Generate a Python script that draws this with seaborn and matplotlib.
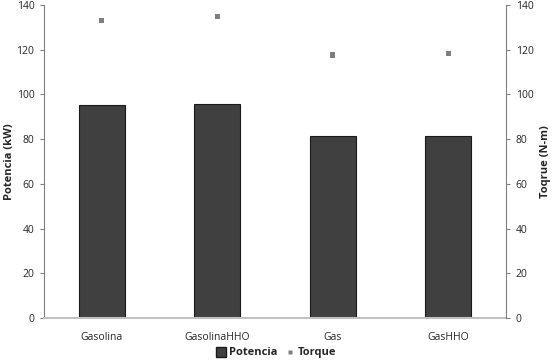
import numpy as np
import pandas as pd
import matplotlib
matplotlib.use("Agg")
import matplotlib.pyplot as plt
import seaborn as sns
from matplotlib.lines import Line2D

# valores
combustibles = ["Gasolina", "GasolinaHHO", "Gas", "GasHHO"]
potencia = [95.2, 95.8, 81.4, 81.6]   # kW
torque = [133.0, 134.9, 117.6, 118.2]  # N-m
yticks = list(range(0, 141, 20))

df = pd.DataFrame({"Combustible": combustibles, "Potencia": potencia, "Torque": torque})

sns.set_style("white")
plt.rcParams["font.family"] = ["Open Sans", "DejaVu Sans"]

fig = plt.figure(figsize=(5.53, 3.62), dpi=100)
ax = fig.add_axes([0.0796, 0.1215, 0.8354, 0.8647])

sns.barplot(data=df, x="Combustible", y="Potencia", color="#404040", width=0.4,
            saturation=1, edgecolor="#1a1a1a", linewidth=0.8, ax=ax)
ax.set_ylim(0, 140)
ax.set_xlim(-0.5, 3.5)
ax.set_yticks(yticks)
ax.set_xlabel("")
ax.set_ylabel("Potencia (kW)", fontsize=8, fontweight="bold")
ax.yaxis.set_label_coords(-0.063, 0.5)

ax2 = ax.twinx()
sns.scatterplot(x=np.arange(len(combustibles)), y=df["Torque"], marker="s", s=14,
                color="#7f7f7f", edgecolor="none", ax=ax2)
ax2.set_ylim(0, 140)
ax2.set_yticks(yticks)
ax2.set_ylabel("Toqrue (N-m)", fontsize=8, fontweight="bold")
ax2.yaxis.set_label_coords(1.073, 0.5)
ax.set_xlim(-0.5, 3.5)

for a in (ax, ax2):
    for s in a.spines.values():
        s.set_visible(False)
    a.tick_params(axis="y", labelsize=7.5, length=3, width=0.8, color="#808080",
                  direction="out", pad=4)
    a.tick_params(axis="x", labelsize=7.5, length=0, pad=10)
ax.tick_params(axis="y", left=True)
ax2.tick_params(axis="y", right=True)
ax.spines["left"].set_visible(True)
ax.spines["left"].set_color("#808080")
ax.spines["left"].set_linewidth(0.8)
ax2.spines["right"].set_visible(True)
ax2.spines["right"].set_color("#808080")
ax2.spines["right"].set_linewidth(0.8)
ax.spines["bottom"].set_visible(True)
ax.spines["bottom"].set_color("#c0c0c0")
ax.spines["bottom"].set_linewidth(1.5)

handles = [
    Line2D([], [], marker="s", linestyle="none", markersize=6.5,
           markerfacecolor="#404040", markeredgecolor="#1a1a1a"),
    Line2D([], [], marker="s", linestyle="none", markersize=3.5,
           markerfacecolor="#7f7f7f", markeredgecolor="none"),
]
leg = fig.legend(handles, ["Potencia", "Torque"], loc="center", bbox_to_anchor=(0.5, 0.025),
                 ncol=2, frameon=False, handletextpad=0.3, columnspacing=0.8,
                 handlelength=0.8, prop={"size": 8, "weight": "bold"})

fig.savefig("out.png", dpi=100)
